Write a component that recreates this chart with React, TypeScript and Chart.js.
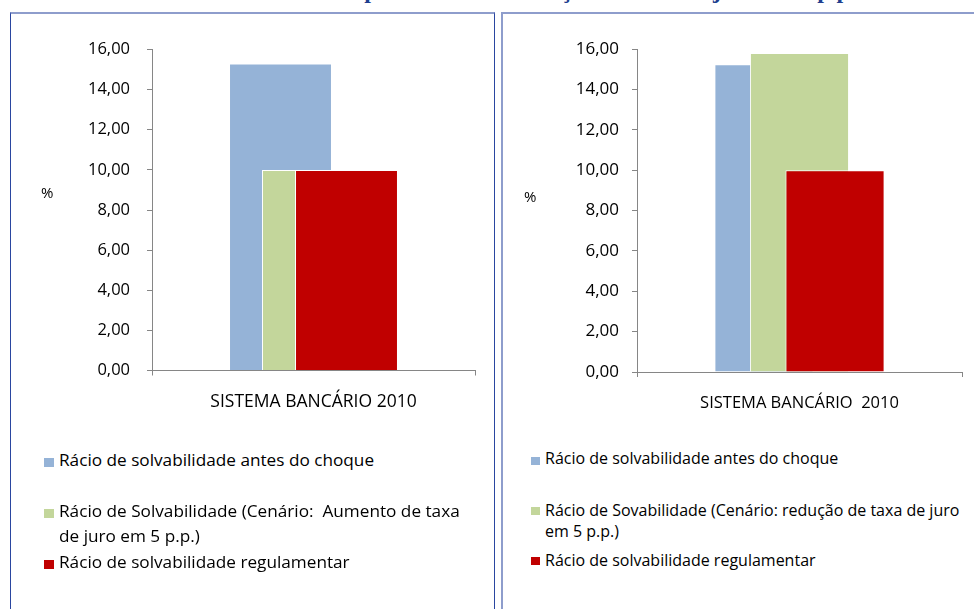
import React, { useEffect, useRef } from 'react';
import { Chart, registerables } from 'chart.js';

Chart.register(...registerables);

const FONT = "'Open Sans', sans-serif";

// ---------- Data ----------
const titleText = 'Impacto de uma variação da taxa de juro em 5 p.p.';
const yAxisUnit = '%';
const categoriesLeft = ['SISTEMA BANCÁRIO 2010'];
const categoriesRight = ['SISTEMA BANCÁRIO  2010'];
const seriesNamesLeft = [
  'Rácio de solvabilidade antes do choque',
  'Rácio de Solvabilidade (Cenário:  Aumento de taxa\nde juro em 5 p.p.)',
  'Rácio de solvabilidade regulamentar',
];
const seriesNamesRight = [
  'Rácio de solvabilidade antes do choque',
  'Rácio de Sovabilidade (Cenário: redução de taxa de juro\nem 5 p.p.)',
  'Rácio de solvabilidade regulamentar',
];
const antesChoqueLeft = [15.3];
const aumentoTaxaJuro = [10.0];
const regulamentarLeft = [10.0];
const antesChoqueRight = [15.25];
const reducaoTaxaJuro = [15.8];
const regulamentarRight = [10.0];
const yMin = 0;
const yMax = 16;
const yStep = 2;

// ---------- Styles ----------
const seriesColors = ['#95B3D7', '#C3D69B', '#C00000'];
const axisColor = '#868686';

const formatTick = (v: number | string) => Number(v).toFixed(2).replace('.', ',');

// Draw datasets in index order so later series sit on top (Excel overlap look)
const drawInOrder = {
  id: 'drawInOrder',
  beforeDatasetsDraw(chart: any) {
    chart.data.datasets.forEach((_: any, i: number) => {
      const meta = chart.getDatasetMeta(i);
      if (chart.isDatasetVisible(i)) meta.controller.draw();
    });
    return false;
  },
};

type PanelCfg = {
  x: number; y: number; w: number; h: number;
  yAxisWidth: number; padTop: number; padRight: number; padBottom: number; xAxisHeight: number;
  yTickPad: number; xTickPad: number; yFont: number; xFont: number;
  cat: number; bar: number;
};

function BarPanel({ labels, names, series, cfg }: { labels: string[]; names: string[]; series: number[][]; cfg: PanelCfg }) {
  const ref = useRef<HTMLCanvasElement>(null);
  useEffect(() => {
    const chart = new Chart(ref.current as HTMLCanvasElement, {
      type: 'bar',
      data: {
        labels,
        datasets: series.map((d, i) => ({
          label: names[i].replace('\n', ' '),
          data: d,
          backgroundColor: seriesColors[i],
          borderColor: '#FFFFFF',
          borderWidth: 1,
          categoryPercentage: cfg.cat,
          barPercentage: cfg.bar,
        })),
      },
      options: {
        animation: false,
        responsive: false,
        maintainAspectRatio: false,
        devicePixelRatio: 1,
        layout: { padding: { top: cfg.padTop, right: cfg.padRight, bottom: cfg.padBottom, left: 0 } },
        plugins: { legend: { display: false }, tooltip: { enabled: false }, title: { display: false } },
        scales: {
          x: {
            offset: true,
            ticks: { color: '#000000', font: { family: FONT, size: cfg.xFont }, padding: cfg.xTickPad, maxRotation: 0, autoSkip: false },
            grid: { drawOnChartArea: false, tickLength: 5, color: axisColor, offset: true },
            border: { display: true, color: axisColor, width: 1 },
            afterFit: (s: any) => { s.height = cfg.xAxisHeight; },
          },
          y: {
            min: yMin,
            max: yMax,
            ticks: { stepSize: yStep, color: '#000000', font: { family: FONT, size: cfg.yFont }, padding: cfg.yTickPad, callback: (v: any) => formatTick(v) },
            grid: { drawOnChartArea: false, tickLength: 5, color: axisColor },
            border: { display: true, color: axisColor, width: 1 },
            afterFit: (s: any) => { s.width = cfg.yAxisWidth; },
          },
        },
      } as any,
      plugins: [drawInOrder as any],
    });
    return () => chart.destroy();
  }, []);
  return <canvas ref={ref} width={cfg.w} height={cfg.h} style={{ position: 'absolute', left: cfg.x, top: cfg.y }} />;
}

type LegendCfg = {
  sqX: number; sqW: number; sqH: number; sqTops: number[];
  textX: number; textTops: number[]; font: number; lineHeight: number;
};

function Legend({ names, cfg }: { names: string[]; cfg: LegendCfg }) {
  return (
    <>
      {names.map((n, i) => (
        <React.Fragment key={i}>
          <div style={{ position: 'absolute', left: cfg.sqX, top: cfg.sqTops[i], width: cfg.sqW, height: cfg.sqH, background: seriesColors[i] }} />
          <div style={{ position: 'absolute', left: cfg.textX, top: cfg.textTops[i], fontFamily: FONT, fontSize: cfg.font, lineHeight: `${cfg.lineHeight}px`, color: '#000', whiteSpace: 'pre' }}>{n}</div>
        </React.Fragment>
      ))}
    </>
  );
}

const leftCfg: PanelCfg = {
  x: 10, y: 14, w: 484, h: 406,
  yAxisWidth: 142, padTop: 35.5, padRight: 19, padBottom: 9.5, xAxisHeight: 40,
  yTickPad: 17, xTickPad: 16, yFont: 16.5, xFont: 17.5,
  cat: 0.3065, bar: 3.12,
};
const rightCfg: PanelCfg = {
  x: 502, y: 14, w: 472, h: 406,
  yAxisWidth: 135, padTop: 35, padRight: 12, padBottom: 8, xAxisHeight: 40,
  yTickPad: 13, xTickPad: 16, yFont: 17, xFont: 16.5,
  cat: 0.328, bar: 2.79,
};
const leftLegend: LegendCfg = {
  sqX: 44, sqW: 10, sqH: 9, sqTops: [457.5, 508.5, 559.5],
  textX: 59, textTops: [447, 498, 549], font: 17.2, lineHeight: 25,
};
const rightLegend: LegendCfg = {
  sqX: 531, sqW: 9, sqH: 8, sqTops: [457, 507, 557],
  textX: 545, textTops: [447.5, 499.5, 550], font: 16, lineHeight: 21,
};

export default function App() {
  return (
    <div style={{ position: 'absolute', left: 0, top: 0, width: 974, height: 609, overflow: 'hidden', background: '#fff' }}>
      <div style={{ position: 'absolute', left: 335, top: -22, fontFamily: "'Liberation Serif', serif", fontWeight: 'bold', fontSize: 24, lineHeight: '24px', color: '#203F8F', whiteSpace: 'pre' }}>{titleText}</div>
      <div style={{ position: 'absolute', left: 10, top: 12, width: 485, height: 640, boxSizing: 'border-box', borderLeft: '1px solid #2A46A0', borderRight: '1px solid #2A46A0', borderTop: '2px solid #8E9DCC' }} />
      <div style={{ position: 'absolute', left: 501, top: 12, width: 500, height: 640, boxSizing: 'border-box', borderLeft: '2px solid #8E9DCC', borderTop: '2px solid #8E9DCC' }} />
      <BarPanel labels={categoriesLeft} names={seriesNamesLeft} series={[antesChoqueLeft, aumentoTaxaJuro, regulamentarLeft]} cfg={leftCfg} />
      <BarPanel labels={categoriesRight} names={seriesNamesRight} series={[antesChoqueRight, reducaoTaxaJuro, regulamentarRight]} cfg={rightCfg} />
      <div style={{ position: 'absolute', left: 41, top: 182, fontFamily: FONT, fontSize: 15, lineHeight: '20px', color: '#000' }}>{yAxisUnit}</div>
      <div style={{ position: 'absolute', left: 524, top: 186, fontFamily: FONT, fontSize: 15, lineHeight: '20px', color: '#000' }}>{yAxisUnit}</div>
      <Legend names={seriesNamesLeft} cfg={leftLegend} />
      <Legend names={seriesNamesRight} cfg={rightLegend} />
    </div>
  );
}
